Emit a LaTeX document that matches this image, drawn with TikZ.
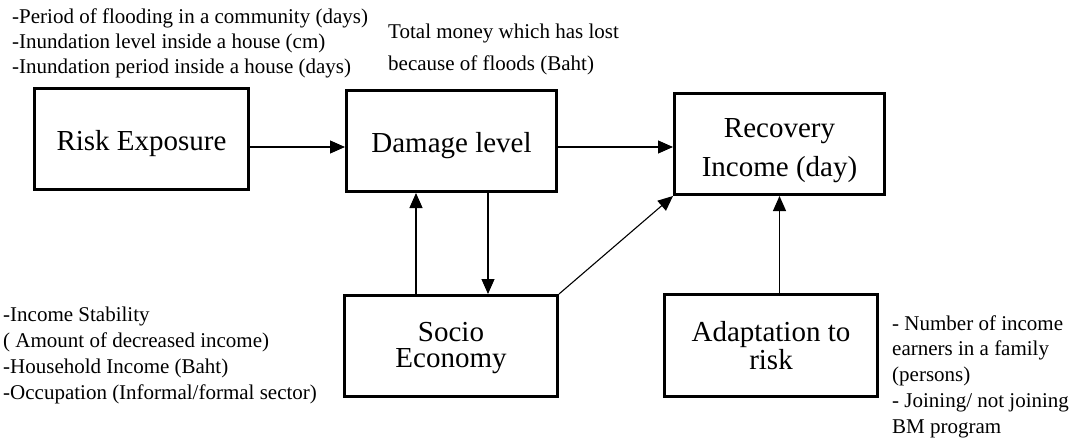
\documentclass[tikz,border=0pt]{standalone}
\usepackage{fontspec}
\setmainfont{Liberation Serif}
\usetikzlibrary{arrows.meta}

% a tall invisible strut that sits the box text a little lower
\newcommand{\lowstrut}[1]{\rule{0pt}{#1}}

\begin{document}
\begin{tikzpicture}[x=1pt,y=-1pt,
  box/.style={draw, line width=2.6pt, inner sep=0pt, align=center,
    minimum height=101.4pt, font=\fontsize{29}{35}\selectfont},
  note/.style={anchor=base west, inner sep=0pt, align=left},
  arr/.style={-{Triangle[length=15pt,width=13pt]}, line width=1.1pt}]
\useasboundingbox (0,0) rectangle (1075,441);

% boxes
\node[box, minimum width=214.4pt] (risk) at (141.5,139) {\lowstrut{30pt}Risk Exposure};
\node[box, minimum width=210.4pt] (dmg)  at (451.5,141) {\lowstrut{30pt}Damage level};
\node[box, minimum width=210.4pt] (rec)  at (779.5,144) {\lowstrut{32pt}Recovery\\[4pt]Income (day)};
\node[box, minimum width=213.4pt, font=\fontsize{29}{26}\selectfont] (soc) at (451,346) {\lowstrut{23pt}Socio\\Economy};
\node[box, minimum width=213.4pt, minimum height=102.4pt, font=\fontsize{29}{28}\selectfont] (ada) at (771,345.5) {Adaptation to\\risk};

% indicator notes (anchored at the baseline of their last line)
\node[note, font=\fontsize{21}{25}\selectfont] (nrisk) at (12,74)
  {-Period of flooding in a community (days)\\-Inundation level inside a house (cm)\\-Inundation period inside a house (days)};
\node[note, font=\fontsize{21}{32}\selectfont] (ndmg) at (388,71)
  {Total money which has lost\\because of floods (Baht)};
\node[note, font=\fontsize{21}{26}\selectfont] (nsoc) at (3,399)
  {-Income Stability\\( Amount of decreased income)\\-Household Income (Baht)\\-Occupation (Informal/formal sector)};
\node[note, font=\fontsize{21}{25.75}\selectfont] (nada) at (892,433)
  {- Number of income\\earners in a family\\(persons)\\- Joining/ not joining\\BM program};

% connectors
\coordinate (row) at (0,147);
\coordinate (colup) at (416,0);
\coordinate (coldn) at (488,0);
\draw[arr] (risk.east |- row) -- (dmg.west |- row);
\draw[arr] (dmg.east |- row) -- (rec.west |- row);
\draw[arr] (soc.north -| colup) -- (dmg.south -| colup);
\draw[arr] (dmg.south -| coldn) -- (soc.north -| coldn);
\draw[arr] (soc.north east) -- (rec.south west);
\draw[arr] (ada.north -| rec.south) -- (rec.south);
\end{tikzpicture}
\end{document}
